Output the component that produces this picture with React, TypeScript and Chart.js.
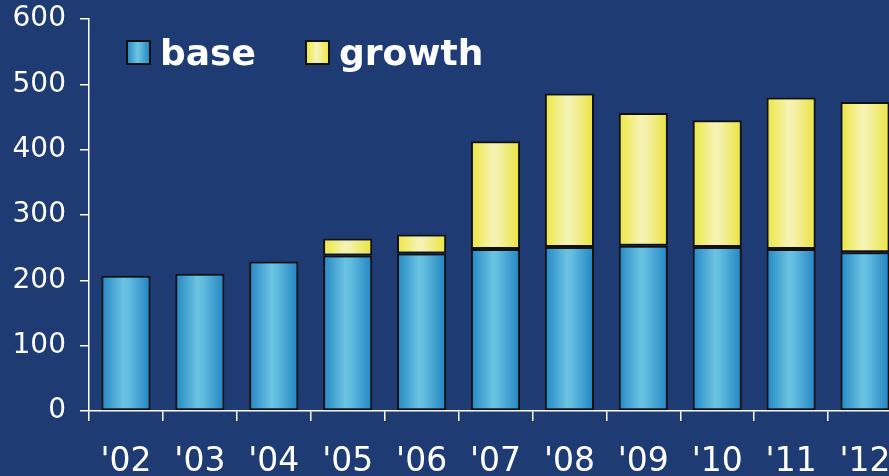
import React, { useEffect, useRef } from "react";
import { Chart, registerables } from "chart.js";

Chart.register(...registerables);

const categories = ["'02", "'03", "'04", "'05", "'06", "'07", "'08", "'09", "'10", "'11", "'12"];
const baseValues = [207, 210, 229, 238, 241, 248, 251, 253, 251, 248, 243];
const growthValues = [0, 0, 0, 26, 29, 165, 235, 203, 194, 232, 230];
const yTicks = [0, 100, 200, 300, 400, 500, 600];

const BG = "#1f3b73";
const BASE_STOPS: [number, string][] = [
  [0, "#2287c3"],
  [0.45, "#6cc3e2"],
  [0.55, "#62bde0"],
  [1, "#2284c1"],
];
const GROWTH_STOPS: [number, string][] = [
  [0, "#ede540"],
  [0.45, "#f6f4b4"],
  [0.55, "#f4f1ac"],
  [1, "#ebe33c"],
];
const BAR_PCT = 0.665;

function makeGrad(ctx: CanvasRenderingContext2D, x0: number, x1: number, stops: [number, string][]) {
  const g = ctx.createLinearGradient(x0, 0, x1, 0);
  stops.forEach(([o, c]) => g.addColorStop(o, c));
  return g;
}

function barFill(stops: [number, string][]) {
  return (c: any) => {
    const chart = c.chart;
    const xs = chart.scales && chart.scales.x;
    if (!xs || c.dataIndex === undefined || !chart.chartArea) return stops[1][1];
    const cx = xs.getPixelForValue(c.dataIndex);
    const w = (xs.width / categories.length) * BAR_PCT;
    if (!Number.isFinite(cx) || !Number.isFinite(w) || w <= 0) return stops[1][1];
    return makeGrad(chart.ctx, cx - w / 2, cx + w / 2, stops);
  };
}

const legendPlugin = {
  id: "customLegend",
  afterDraw(chart: any) {
    const ctx: CanvasRenderingContext2D = chart.ctx;
    const items = [
      { label: "base", box: 127, text: 160, stops: BASE_STOPS },
      { label: "growth", box: 306, text: 339, stops: GROWTH_STOPS },
    ];
    ctx.save();
    items.forEach((it) => {
      ctx.fillStyle = makeGrad(ctx, it.box, it.box + 23, it.stops);
      ctx.fillRect(it.box, 41, 23, 23);
      ctx.strokeStyle = "#111";
      ctx.lineWidth = 2;
      ctx.strokeRect(it.box, 41, 23, 23);
      ctx.fillStyle = "#ffffff";
      ctx.font = "bold 36px 'DejaVu Sans'";
      ctx.textAlign = "left";
      ctx.textBaseline = "alphabetic";
      ctx.fillText(it.label, it.text, 65);
    });
    ctx.restore();
  },
};

export default function App() {
  const ref = useRef<HTMLCanvasElement>(null);
  useEffect(() => {
    if (!ref.current) return;
    const chart = new Chart(ref.current, {
      type: "bar",
      data: {
        labels: categories,
        datasets: [
          {
            label: "base",
            data: baseValues,
            backgroundColor: barFill(BASE_STOPS) as any,
            borderColor: "#111",
            borderWidth: 2,
            borderSkipped: false,
            barPercentage: BAR_PCT,
            categoryPercentage: 1,
          },
          {
            label: "growth",
            data: growthValues,
            backgroundColor: barFill(GROWTH_STOPS) as any,
            borderColor: "#111",
            borderWidth: 2,
            borderSkipped: false,
            barPercentage: BAR_PCT,
            categoryPercentage: 1,
          },
        ],
      },
      options: {
        animation: false,
        responsive: false,
        devicePixelRatio: 1,
        layout: { padding: { top: 19, left: 0, right: 8, bottom: 0 } },
        plugins: { legend: { display: false }, tooltip: { enabled: false } },
        scales: {
          x: {
            stacked: true,
            grid: {
              drawOnChartArea: false,
              drawTicks: true,
              tickLength: 10,
              color: "#ffffff",
              lineWidth: 1.5,
              offset: true,
            },
            border: { color: "#ffffff", width: 1.5 },
            ticks: {
              color: "#ffffff",
              font: { family: "'DejaVu Sans'", size: 33 },
              padding: 22,
              maxRotation: 0,
              autoSkip: false,
            },
            afterFit: (s: any) => {
              s.height = 65;
              s.paddingLeft = 0;
              s.paddingRight = 0;
            },
          },
          y: {
            stacked: true,
            min: 0,
            max: 600,
            afterBuildTicks: (s: any) => {
              s.ticks = yTicks.map((v) => ({ value: v }));
            },
            grid: {
              drawOnChartArea: false,
              drawTicks: true,
              tickLength: 9,
              color: "#ffffff",
              lineWidth: 1.5,
            },
            border: { color: "#ffffff", width: 1.5 },
            ticks: {
              color: "#ffffff",
              font: { family: "'DejaVu Sans'", size: 28 },
              padding: 14,
            },
            afterFit: (s: any) => {
              s.width = 89;
              s.paddingTop = 0;
              s.paddingBottom = 0;
            },
          },
        },
      },
      plugins: [legendPlugin],
    });
    return () => chart.destroy();
  }, []);

  return (
    <div
      style={{
        position: "fixed",
        left: 0,
        top: 0,
        width: 889,
        height: 476,
        overflow: "hidden",
        background: BG,
      }}
    >
      <canvas ref={ref} width={910} height={476} style={{ display: "block", width: 910, height: 476 }} />
    </div>
  );
}
